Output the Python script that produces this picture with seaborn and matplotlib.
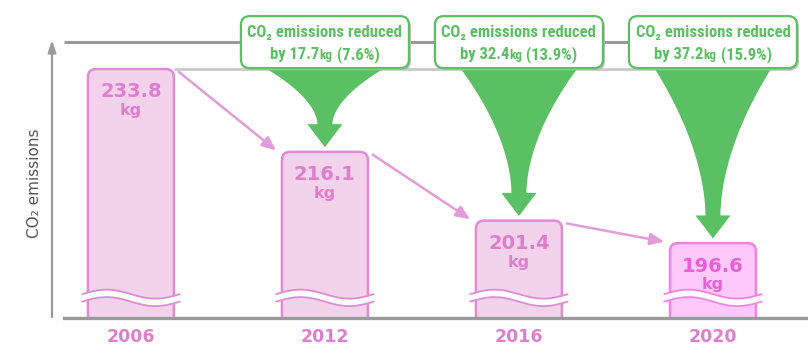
import numpy as np
import matplotlib
matplotlib.use("Agg")
import matplotlib.pyplot as plt
from matplotlib.patches import FancyBboxPatch, Polygon
import seaborn as sns

# Data
years = ["2006", "2012", "2016", "2020"]
values = [233.8, 216.1, 201.4, 196.6]
reduced_kg = [17.7, 32.4, 37.2]
reduced_pct = [7.6, 13.9, 15.9]

# Colours
bar_fill = "#f2d3eb"
bar_edge = "#e08bd3"
last_fill = "#ffcafb"
last_edge = "#f382e4"
pink_text = "#de7fcd"
last_text = "#ea5fd4"
arrow_pink = "#e49bd9"
green = "#5bbf63"

sns.set_theme(style="white")
plt.rcParams["font.family"] = ["DejaVu Sans"]

fig = plt.figure(figsize=(8.08, 3.53), dpi=100)
ax = fig.add_axes([64 / 808, 35 / 353, 744 / 808, 318 / 353])

sns.barplot(x=years, y=values, ax=ax, width=0.443, color=bar_fill)

ymin, ymax = 180.6, 248.55
xmin, xmax = -0.345, 3.49
ax.set_ylim(ymin, ymax)
ax.set_xlim(xmin, xmax)

# px per unit, used for rounding corners
px_x = 744 / (xmax - xmin)
px_y = 318 / (ymax - ymin)
aspect = px_x / px_y

# swap the seaborn bars for rounded ones
bars = list(ax.patches)
for i, p in enumerate(bars):
    x0, w, h = p.get_x(), p.get_width(), p.get_height()
    p.set_visible(False)
    fc = last_fill if i == len(bars) - 1 else bar_fill
    ec = last_edge if i == len(bars) - 1 else bar_edge
    rb = FancyBboxPatch((x0, ymin - 10), w, h - (ymin - 10),
                        boxstyle="round,pad=0,rounding_size=0.042",
                        mutation_aspect=aspect, fc=fc, ec=ec, lw=1.8, zorder=2)
    ax.add_patch(rb)

    # wavy axis-break band
    xs = np.linspace(x0 - 0.03, x0 + w + 0.03, 80)
    u = (xs - xs[0]) / (xs[-1] - xs[0])
    top = 185.7 - 0.96 * np.sin(2 * np.pi * (u - 0.5))
    bot = top - 1.6
    ax.fill_between(xs, bot, top, color="white", zorder=3, lw=0)
    ax.plot(xs, top, color=ec, lw=1.3, zorder=4)
    ax.plot(xs, bot, color=ec, lw=1.3, zorder=4)

    # value labels
    tc = last_text if i == len(bars) - 1 else pink_text
    ax.text(i, values[i] - 4.9, f"{values[i]:.1f}", ha="center", va="center",
            fontsize=14, fontweight="bold", color=tc, zorder=5)
    ax.text(i, values[i] - 8.9, "kg", ha="center", va="center",
            fontsize=11.5, fontweight="bold", color=tc, zorder=5)

# pink arrows between bars
half_w = 0.443 / 2
for i in range(len(values) - 1):
    ax.annotate("", xy=(i + 1 - half_w - 0.03, values[i + 1] + 0.3),
                xytext=(i + half_w + 0.025, values[i] - 0.6),
                arrowprops=dict(arrowstyle="-|>,head_length=0.7,head_width=0.3",
                                color=arrow_pink, lw=1.8, shrinkA=0, shrinkB=0),
                zorder=5)

# reference lines
top_line = 239.57
ax.plot([xmin, 3.405], [top_line, top_line], color="#9a9a9a", lw=2.2,
        zorder=1, solid_capstyle="butt")
ax.plot([half_w, 3.405], [values[0], values[0]], color="#c9c9c9", lw=2.0,
        zorder=1, solid_capstyle="butt")

# green funnels and boxes
T = 58 / px_x
s = 7.5 / px_x
head_hw = 17.5 / px_x
head_h = 23 / px_y
gap = 1.0
fam = ["Liberation Sans Narrow", "DejaVu Sans Condensed", "Roboto Condensed", "DejaVu Sans"]
renderer = fig.canvas.get_renderer()
for k in range(1, len(values)):
    y0 = values[0]
    tip = values[k] + gap
    yb = tip + head_h
    t = np.linspace(0, 1, 60)
    ys = y0 - t * (y0 - yb)
    hw = s + (T - s) * (1 - t) ** 1.8
    left = np.column_stack([k - hw, ys])
    right = np.column_stack([k + hw, ys])[::-1]
    pts = np.vstack([left, [[k - head_hw, yb], [k, tip], [k + head_hw, yb]], right])
    ax.add_patch(Polygon(pts, closed=True, fc=green, ec="none", zorder=6))

    bw = 168 / px_x
    by0, by1 = 234.0, 245.1
    ax.add_patch(FancyBboxPatch((k - bw / 2 + 2 / px_x, by0 - 2 / px_y), bw, by1 - by0,
                                boxstyle="round,pad=0,rounding_size=0.045",
                                mutation_aspect=aspect, fc="#bdbdbd", ec="none",
                                zorder=7, clip_on=False))
    ax.add_patch(FancyBboxPatch((k - bw / 2, by0), bw, by1 - by0,
                                boxstyle="round,pad=0,rounding_size=0.045",
                                mutation_aspect=aspect, fc="white", ec=green,
                                lw=1.6, zorder=8, clip_on=False))
    ax.text(k, 241.7, "CO\u2082 emissions reduced", ha="center", va="center",
            fontsize=12, fontweight="bold", color=green, family=fam, zorder=9)

    # second line, with a smaller "kg"
    parts = [(f"by {reduced_kg[k - 1]:.1f}", 12), ("kg", 9.5),
             (f" ({reduced_pct[k - 1]:.1f}%)", 12)]
    base_y = 235.9
    pieces = [ax.text(k, base_y, txt, ha="left", va="baseline", fontsize=fs,
                      fontweight="bold", color=green, family=fam, zorder=9)
              for txt, fs in parts]
    widths = [pc.get_window_extent(renderer).width for pc in pieces]
    cx, cy = ax.transData.transform((k, base_y))
    xpix = cx - sum(widths) / 2
    for pc, wd in zip(pieces, widths):
        pc.set_x(ax.transData.inverted().transform((xpix, cy))[0])
        xpix += wd

# axes styling
for side in ["top", "right", "left"]:
    ax.spines[side].set_visible(False)
ax.spines["bottom"].set_color("#9a9a9a")
ax.spines["bottom"].set_linewidth(2.4)
ax.set_yticks([])
ax.set_xlabel("")
ax.set_ylabel("")
ax.tick_params(axis="x", length=0, pad=7, labelsize=12.5, labelcolor=pink_text)
for lbl in ax.get_xticklabels():
    lbl.set_fontweight("bold")

# y axis arrow and label
ax.annotate("", xy=(-0.0161, 240.0), xytext=(-0.0161, 180.8),
            xycoords=ax.get_yaxis_transform(), textcoords=ax.get_yaxis_transform(),
            arrowprops=dict(arrowstyle="-|>,head_length=0.6,head_width=0.2",
                            color="#9a9a9a", lw=1.6, shrinkA=0, shrinkB=0),
            annotation_clip=False)
ax.text(-0.04, 209.4, "CO\u2082 emissions", rotation=90, ha="center", va="center",
        fontsize=11, color="#555555", transform=ax.get_yaxis_transform())

fig.savefig("out.png", dpi=100)
